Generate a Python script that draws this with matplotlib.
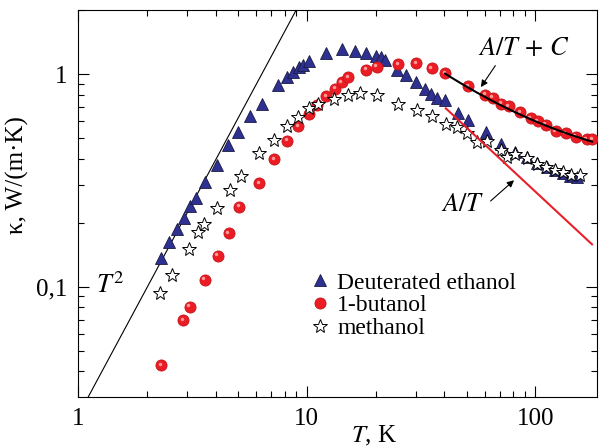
import numpy as np
import matplotlib
matplotlib.use("Agg")
import matplotlib.pyplot as plt
from matplotlib.ticker import LogLocator, FixedLocator, FixedFormatter, NullFormatter
from matplotlib.transforms import offset_copy

plt.rcParams["font.family"] = ["Liberation Serif", "DejaVu Serif"]
plt.rcParams["mathtext.fontset"] = "stix"

# deuterated ethanol
t_deut = [2.30, 2.49, 2.70, 2.91, 3.09, 3.28, 3.59, 4.04, 4.53, 5.03, 5.65, 6.35,
          7.48, 8.18, 8.72, 9.28, 9.67, 10.2, 12.2, 14.2, 16.2, 18.2, 20.1, 21.1,
          22.1, 24.9, 27.2, 30.1, 33.0, 35.1, 37.3, 40.3, 45.9, 50.6, 60.8, 70.7,
          81.6, 91.8, 101.5, 112.3, 122.1, 132.7, 142.0, 151.9]
k_deut = [0.137, 0.163, 0.186, 0.211, 0.240, 0.260, 0.311, 0.375, 0.464, 0.536, 0.635, 0.721,
          0.888, 0.965, 1.02, 1.079, 1.102, 1.147, 1.255, 1.306, 1.287, 1.255, 1.215, 1.202,
          1.164, 1.044, 0.989, 0.915, 0.847, 0.804, 0.773, 0.755, 0.656, 0.605, 0.533, 0.469,
          0.428, 0.409, 0.380, 0.367, 0.354, 0.341, 0.332, 0.327]

# 1-butanol
t_but = [2.31, 2.89, 3.08, 3.59, 4.08, 4.57, 5.08, 6.21, 7.20, 8.23, 9.19, 10.2,
         11.1, 12.2, 13.3, 14.2, 15.2, 18.2, 20.3, 25.2, 30.1, 35.3, 40.3, 50.8,
         60.3, 65.1, 70.9, 76.4, 85.8, 95.7, 102.4, 111.3, 123.1, 136.1, 150.5, 168.0, 177.3]
k_but = [0.0428, 0.0697, 0.0805, 0.108, 0.140, 0.178, 0.238, 0.306, 0.398, 0.485, 0.568, 0.649,
         0.715, 0.788, 0.852, 0.917, 0.968, 1.048, 1.082, 1.112, 1.126, 1.064, 1.008, 0.875,
         0.797, 0.773, 0.723, 0.705, 0.663, 0.619, 0.600, 0.576, 0.538, 0.526, 0.506, 0.493, 0.493]

# methanol
t_meth = [2.29, 2.58, 3.06, 3.36, 3.57, 4.07, 4.62, 5.16, 6.20, 7.17, 8.18, 9.15,
          10.2, 11.2, 13.2, 15.1, 17.1, 20.2, 25.2, 30.3, 35.4, 40.7, 45.4, 50.5,
          55.6, 61.5, 70.7, 75.3, 81.2, 91.8, 101.5, 111.5, 122.1, 132.7, 142.7, 156.4]
k_meth = [0.0931, 0.114, 0.151, 0.181, 0.197, 0.234, 0.285, 0.332, 0.424, 0.490, 0.567, 0.626,
          0.696, 0.723, 0.760, 0.801, 0.811, 0.801, 0.723, 0.677, 0.635, 0.582, 0.562, 0.526,
          0.480, 0.483, 0.439, 0.407, 0.421, 0.402, 0.379, 0.367, 0.354, 0.345, 0.337, 0.337]

# fit lines
a_t2 = 0.0247          # kappa = a*T^2
a_inv = 28.0           # kappa = A/T
a_fit, c_fit = 27.3, 0.327   # kappa = A/T + C
t_inv_range = (40.6, 177.0)
t_fit_range = (40.3, 177.0)

fig, ax = plt.subplots(figsize=(6.03, 4.47), dpi=100)
fig.subplots_adjust(left=0.1294, right=0.990, bottom=0.1125, top=0.9776)

t_line = np.geomspace(1.0, 12.0, 50)
ax.plot(t_line, a_t2 * t_line ** 2, color="black", lw=0.8, zorder=1)

ax.plot(t_deut, k_deut, ls="none", marker="^", ms=9, mfc="#2e3192",
        mec="#1a1a40", mew=0.6, label="Deuterated ethanol", zorder=3)
ax.plot(t_but, k_but, ls="none", marker="o", ms=8, mfc="#ec1c24",
        mec="#c4161c", mew=0.6, label="1-butanol", zorder=4)
hl = offset_copy(ax.transData, fig=fig, x=-1.5, y=1.5, units="dots")
ax.plot(t_but, k_but, ls="none", marker="o", ms=2.5, mfc="#ffb0b0",
        mec="none", alpha=0.85, transform=hl, zorder=4)
ax.plot(t_meth, k_meth, ls="none", marker="*", ms=10, mfc="white",
        mec="black", mew=0.7, label="methanol", zorder=5)

t_line = np.geomspace(*t_inv_range, 50)
ax.plot(t_line, a_inv / t_line, color="#e8202a", lw=1.5, zorder=6)

t_line = np.geomspace(*t_fit_range, 50)
ax.plot(t_line, a_fit / t_line + c_fit, color="black", lw=1.5, zorder=6)

ax.set_xscale("log")
ax.set_yscale("log")
ax.set_xlim(1, 186)
ax.set_ylim(0.0304, 2.0)

ax.xaxis.set_major_locator(FixedLocator([1, 10, 100]))
ax.xaxis.set_major_formatter(FixedFormatter(["1", "10", "100"]))
ax.xaxis.set_minor_locator(LogLocator(base=10, subs=np.arange(2, 10)))
ax.xaxis.set_minor_formatter(NullFormatter())
ax.yaxis.set_major_locator(FixedLocator([0.1, 1]))
ax.yaxis.set_major_formatter(FixedFormatter(["0,1", "1"]))
ax.yaxis.set_minor_locator(LogLocator(base=10, subs=np.arange(2, 10)))
ax.yaxis.set_minor_formatter(NullFormatter())

ax.tick_params(which="both", direction="in", top=True, right=True, labelsize=18, width=0.8)
ax.tick_params(which="major", length=8, pad=8)
ax.tick_params(which="minor", length=4.5)
for s in ax.spines.values():
    s.set_linewidth(0.8)

ax.set_xlabel("$T$, K", fontsize=18)
ax.xaxis.set_label_coords(0.57, -0.07)
ax.set_ylabel("κ, W/(m·K)", fontsize=18)
ax.yaxis.set_label_coords(-0.095, 0.574)

ax.text(1.39, 0.102, "$T^2$", fontsize=19, ha="center", va="center")
ax.text(89.3, 1.325, "$A/T\\,+\\,C$", fontsize=19, ha="center", va="center")
ax.annotate("", xy=(56.9, 0.847), xytext=(67.9, 1.123),
            arrowprops=dict(arrowstyle="-|>", color="black", lw=0.8, mutation_scale=10))
ax.text(48.3, 0.242, "$A/T$", fontsize=19, ha="center", va="center")
ax.annotate("", xy=(82.4, 0.323), xytext=(62.4, 0.248),
            arrowprops=dict(arrowstyle="-|>", color="black", lw=0.8, mutation_scale=10))

ax.legend(loc="upper left", bbox_to_anchor=(0.42, 0.353), frameon=False,
          fontsize=17, handlelength=1.0, handletextpad=0.25, labelspacing=0.05,
          borderpad=0, numpoints=1)

fig.savefig("out.png", dpi=100)
